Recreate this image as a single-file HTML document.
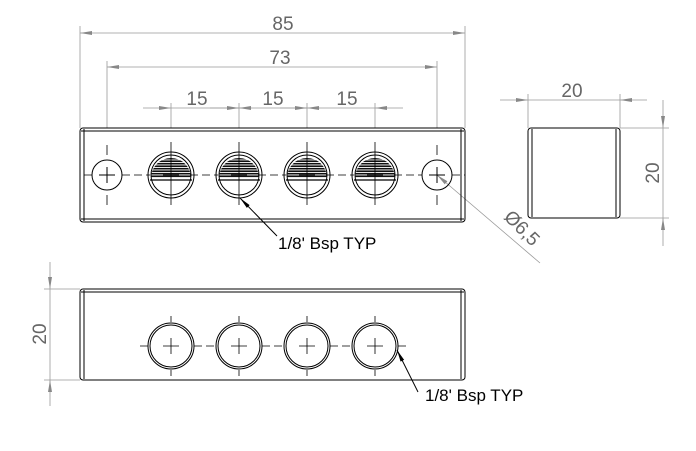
<!DOCTYPE html>
<html><head><style>body{margin:0;background:#fff}svg{display:block}text{font-family:"Liberation Sans",sans-serif;fill:#666}</style></head><body>
<svg width="696" height="451" viewBox="0 0 696 451" xmlns="http://www.w3.org/2000/svg">
<defs>
<marker id="a" markerWidth="12" markerHeight="6" refX="12" refY="3" orient="auto-start-reverse" markerUnits="userSpaceOnUse"><path d="M0,1 L12,3 L0,5 Z" fill="#888"/></marker>
<marker id="k" markerWidth="12" markerHeight="6" refX="12" refY="3" orient="auto" markerUnits="userSpaceOnUse"><path d="M0,1 L12,3 L0,5 Z" fill="#000"/></marker>
<pattern id="h" width="5" height="2.5" patternUnits="userSpaceOnUse"><path d="M0,1.2 H5" stroke="#111" stroke-width="1.6"/></pattern>
</defs>
<g stroke="#999" stroke-width="0.8" fill="none">
<line x1="80" y1="26" x2="80" y2="128"/><line x1="465" y1="26" x2="465" y2="128"/>
<line x1="107" y1="61" x2="107" y2="128"/><line x1="437" y1="61" x2="437" y2="128"/>
<line x1="171" y1="103" x2="171" y2="128"/><line x1="239" y1="103" x2="239" y2="128"/><line x1="307" y1="103" x2="307" y2="128"/><line x1="375" y1="103" x2="375" y2="128"/>
<line x1="80" y1="33" x2="465" y2="33" marker-start="url(#a)" marker-end="url(#a)"/>
<line x1="107" y1="67" x2="437" y2="67" marker-start="url(#a)" marker-end="url(#a)"/>
<line x1="143" y1="108" x2="171" y2="108" marker-end="url(#a)"/>
<line x1="171" y1="108" x2="239" y2="108"/>
<line x1="210" y1="108" x2="239" y2="108" marker-end="url(#a)"/>
<line x1="239" y1="108" x2="252" y2="108" marker-start="url(#a)"/>
<line x1="252" y1="108" x2="307" y2="108"/>
<line x1="280" y1="108" x2="307" y2="108" marker-end="url(#a)"/>
<line x1="307" y1="108" x2="320" y2="108" marker-start="url(#a)"/>
<line x1="320" y1="108" x2="375" y2="108"/>
<line x1="375" y1="108" x2="403" y2="108" marker-start="url(#a)"/>
<line x1="528" y1="94" x2="528" y2="128"/><line x1="620" y1="94" x2="620" y2="128"/>
<line x1="500" y1="100" x2="528" y2="100" marker-end="url(#a)"/>
<line x1="528" y1="100" x2="620" y2="100"/>
<line x1="620" y1="100" x2="647" y2="100" marker-start="url(#a)"/>
<line x1="620" y1="128" x2="669" y2="128"/><line x1="620" y1="218" x2="669" y2="218"/>
<line x1="663" y1="100" x2="663" y2="128" marker-end="url(#a)"/>
<line x1="663" y1="128" x2="663" y2="218"/>
<line x1="663" y1="218" x2="663" y2="246" marker-start="url(#a)"/>
<line x1="44" y1="289" x2="80" y2="289"/><line x1="44" y1="380" x2="80" y2="380"/>
<line x1="50" y1="262" x2="50" y2="289" marker-end="url(#a)"/>
<line x1="50" y1="289" x2="50" y2="380"/>
<line x1="50" y1="380" x2="50" y2="406" marker-start="url(#a)"/>
<line x1="540" y1="263" x2="437" y2="175" marker-end="url(#a)"/>
</g>
<g font-size="19">
<text x="283" y="30" text-anchor="middle">85</text>
<text x="280" y="64" text-anchor="middle">73</text>
<text x="197" y="105" text-anchor="middle">15</text>
<text x="273" y="105" text-anchor="middle">15</text>
<text x="347" y="105" text-anchor="middle">15</text>
<text x="572" y="97" text-anchor="middle">20</text>
<text transform="translate(659,173) rotate(-90)" text-anchor="middle">20</text>
<text transform="translate(46,334) rotate(-90)" text-anchor="middle">20</text>
<text transform="translate(503,218) rotate(45)">Ø6,5</text>
</g>
<g font-size="17">
<text x="278" y="249" style="fill:#000">1/8' Bsp TYP</text>
<text x="425" y="401" style="fill:#000">1/8' Bsp TYP</text>
</g>
<g stroke="#000" fill="none" stroke-width="1">
<rect x="80" y="128" width="385" height="94" rx="3"/>
<line x1="84" y1="129" x2="84" y2="221"/><line x1="461" y1="129" x2="461" y2="221"/>
<line x1="81" y1="131" x2="464" y2="131"/><line x1="81" y1="219" x2="464" y2="219"/>
<circle cx="107" cy="175" r="15"/><circle cx="437" cy="175" r="15"/>
<path d="M99,175H115M107,167V183M429,175H445M437,167V183"/>
<path d="M92,175H80M122,175H150M190,175H218M258,175H286M326,175H354M394,175H422M452,175H465" stroke-dasharray="8,4" stroke-width="0.8"/>
<path d="M107,145V155M107,195V205M437,145V155M437,195V205" stroke-width="0.8"/>
</g>
<g stroke="#000" fill="none">
<g id="hole">
<circle cx="171" cy="175" r="23"/><circle cx="171" cy="175" r="20"/>
<path d="M151,178 A20,20 0 0 1 191,178 Z" fill="url(#h)" stroke="none"/>
<path d="M150,180 H192" stroke-width="1.2"/>
<path d="M171,142V205M163,175H179" stroke-width="0.8"/>
</g>
<use href="#hole" x="68"/><use href="#hole" x="136"/><use href="#hole" x="204"/>
<line x1="277" y1="236" x2="240" y2="198" stroke-width="1" marker-end="url(#k)"/>
<rect x="528" y="128" width="92" height="90" rx="3"/>
<line x1="532" y1="129" x2="532" y2="217"/><line x1="616" y1="129" x2="616" y2="217"/>
<rect x="80" y="289" width="385" height="91" rx="3"/>
<line x1="84" y1="290" x2="84" y2="379"/><line x1="461" y1="290" x2="461" y2="379"/>
<line x1="81" y1="292" x2="464" y2="292"/>
<g id="bh"><circle cx="171" cy="346" r="23"/><circle cx="171" cy="346" r="21"/><path d="M163,346H179M171,338V354M171,316V322M171,370V376" stroke-width="0.8"/></g>
<use href="#bh" x="68"/><use href="#bh" x="136"/><use href="#bh" x="204"/>
<path d="M140,346H148M194,346H216M262,346H284M330,346H352M398,346H406" stroke-dasharray="8,4" stroke-width="0.8"/>
<line x1="418" y1="392" x2="397" y2="350" stroke-width="1" marker-end="url(#k)"/>
</g>
</svg>
</body></html>
